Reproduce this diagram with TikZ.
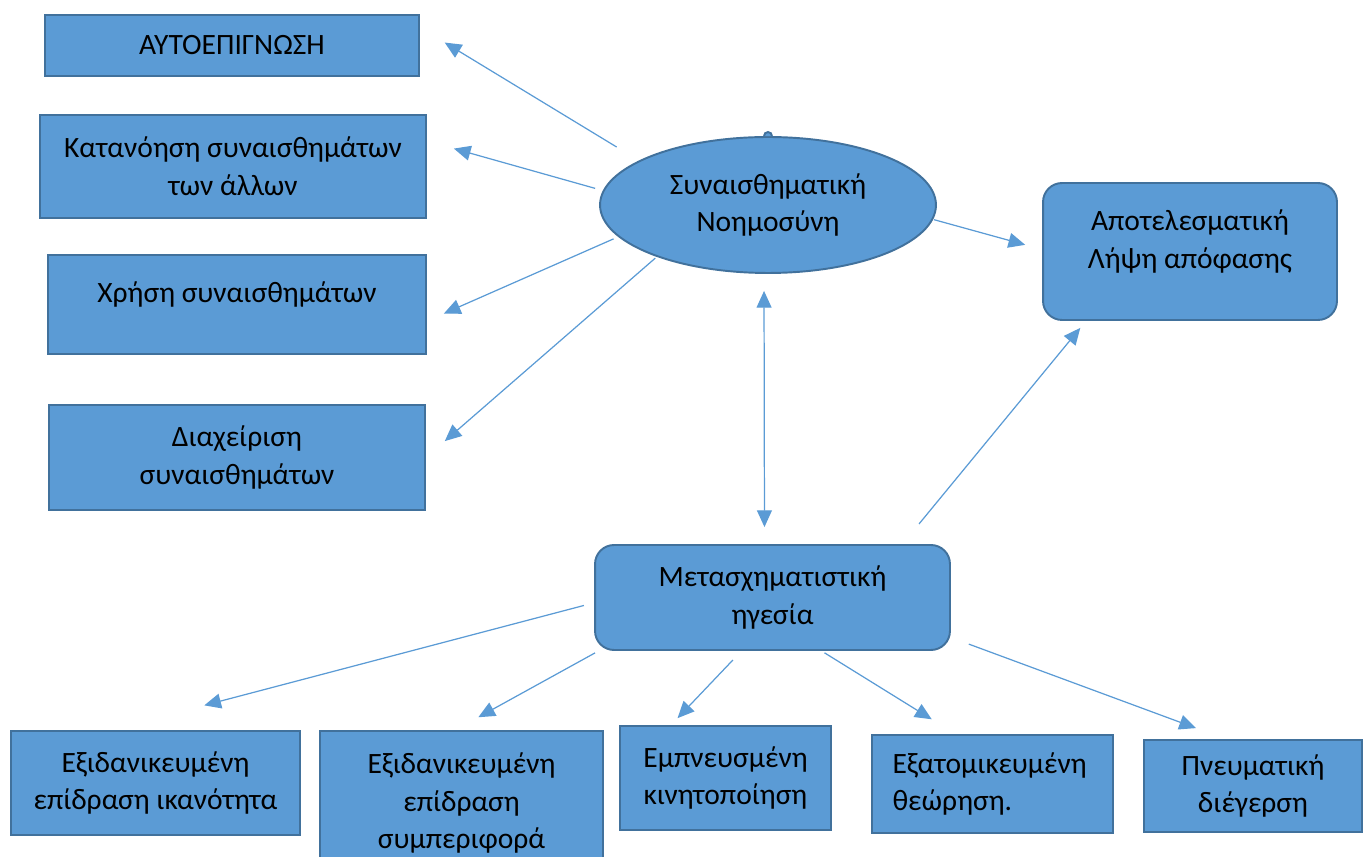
\documentclass[tikz,border=0pt]{standalone}
\usepackage{fontspec}
\setmainfont{Carlito}
\usetikzlibrary{shapes.geometric, arrows.meta}
\definecolor{boxfill}{HTML}{5B9BD5}
\definecolor{boxline}{HTML}{41719C}
\definecolor{arrline}{HTML}{5B9BD5}

\begin{document}
\begin{tikzpicture}[x=0.02cm, y=-0.02cm,
    every node/.style={font=\fontsize{16.8}{21.6}\selectfont, align=center, inner sep=0pt},
    box/.style={draw=boxline, fill=boxfill, line width=1.1pt},
    roundbox/.style={box, rounded corners=0.38cm},
    arr/.style={-{Triangle[length=9.5pt, width=8.5pt]}, draw=arrline, line width=0.7pt}]
    \useasboundingbox (0,0) rectangle (1363,857);

    % left column
    \node[box, minimum width=7.48cm, minimum height=1.22cm] (aut) at (232,45.5) {ΑΥΤΟΕΠΙΓΝΩΣΗ};
    \node[box, minimum width=7.72cm, minimum height=2.06cm] (kat) at (233,166.5) {Κατανόηση συναισθημάτων\\των άλλων};
    \node[box, minimum width=7.56cm, minimum height=1.98cm, text depth=14pt] (xri) at (237,304.5) {Χρήση συναισθημάτων};
    \node[box, minimum width=7.52cm, minimum height=2.1cm] (dia) at (237,457.5) {Διαχείριση\\συναισθημάτων};

    % centre and right
    \node[box, ellipse, minimum width=6.72cm, minimum height=2.72cm] (sn) at (768,205) {Συναισθηματική\\Νοημοσύνη};
    \filldraw[box] ([shift={(-4,0)}]sn.north) arc[start angle=180, end angle=0, radius=0.08cm];
    \node[roundbox, minimum width=5.88cm, minimum height=2.74cm, text depth=14.5pt] (apo) at (1190,251.5) {Αποτελεσματική\\Λήψη απόφασης};
    \node[roundbox, minimum width=7.1cm, minimum height=2.1cm] (met) at (772.5,597.5) {Μετασχηματιστική\\ηγεσία};

    % bottom row
    \node[box, minimum width=5.78cm, minimum height=2.08cm] (b1) at (155.5,783) {Εξιδανικευμένη\\επίδραση ικανότητα};
    \node[box, minimum width=5.66cm, minimum height=2.88cm] (b2) at (461.5,803) {Εξιδανικευμένη\\επίδραση\\συμπεριφορά};
    \node[box, minimum width=4.22cm, minimum height=2.08cm] (b3) at (725.5,778) {Εμπνευσμένη\\κινητοποίηση};
    \node[box, minimum width=4.82cm, minimum height=1.96cm, text width=4cm, align=left] (b4) at (992.5,784) {Εξατομικευμένη\\θεώρηση.};
    \node[box, minimum width=4.36cm, minimum height=1.84cm] (b5) at (1253,786) {Πνευματική\\διέγερση};

    % arrows from the ellipse
    \draw[arr, shorten <=0.52cm, shorten >=0.58cm] (sn.161) -- ([shift={(0,-18)}]aut.east);
    \draw[arr, shorten <=0.16cm, shorten >=0.56cm] (sn.175) -- ([shift={(0,-25.5)}]kat.east);
    \draw[arr, shorten <=0.1cm, shorten >=0.37cm] (sn.192) -- ([shift={(0,16.5)}]xri.east);
    \draw[arr, shorten <=0.04cm, shorten >=0.5cm] (sn.205) -- (dia.east);
    \draw[arr, shorten <=0.02cm, shorten >=0.35cm] (sn.-5) -- ([shift={(0,-2)}]apo.west);
    \draw[arr, {Triangle[length=9.5pt, width=8.5pt]}-{Triangle[length=9.5pt, width=8.5pt]}, shorten <=0.34cm, shorten >=0.34cm] ([shift={(-4,0)}]sn.south) -- ([shift={(-8,0)}]met.north);
    \draw[arr, shorten <=0.52cm, shorten >=0.18cm] ([shift={(130,0)}]met.north) -- ([shift={(-104,0)}]apo.south);

    % arrows to the bottom row
    \draw[arr, shorten <=0.21cm, shorten >=1.94cm] ([shift={(0,5.3)}]met.west) -- ([shift={(-45,0)}]b1.north);
    \draw[arr, shorten <=0.08cm, shorten >=0.53cm] ([shift={(4.5,0)}]met.south west) -- ([shift={(-6.4,0)}]b2.north);
    \draw[arr, shorten <=0.25cm, shorten >=0.19cm] ([shift={(-31,0)}]met.south) -- ([shift={(-54.5,0)}]b3.north);
    \draw[arr, shorten <=0.07cm, shorten >=0.56cm] ([shift={(49,0)}]met.south) -- ([shift={(-37,0)}]b4.north);
    \draw[arr, shorten <=0.38cm, shorten >=0.63cm] ([shift={(0,40)}]met.east) -- ([shift={(-27.5,0)}]b5.north);
\end{tikzpicture}
\end{document}
